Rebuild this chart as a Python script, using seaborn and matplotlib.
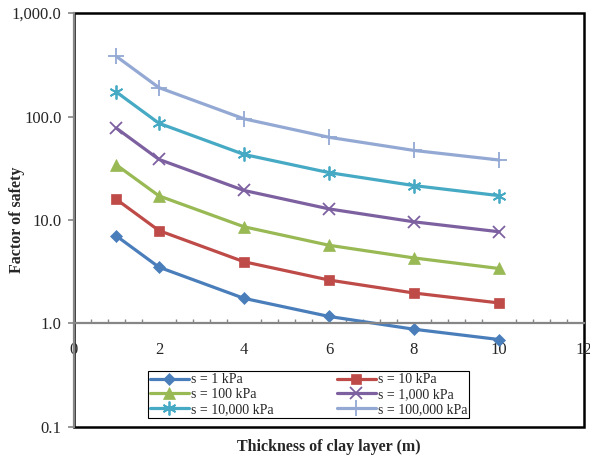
import matplotlib
matplotlib.use("Agg")
import matplotlib.pyplot as plt
import numpy as np
import pandas as pd
import seaborn as sns
from matplotlib.ticker import FuncFormatter, LogLocator, MultipleLocator, NullLocator

# values
thickness = [1, 2, 4, 6, 8, 10]
fs_1 = [7.0, 3.5, 1.75, 1.17, 0.88, 0.70]
fs_10 = [15.8, 7.9, 3.95, 2.63, 1.97, 1.58]
fs_100 = [34.0, 17.1, 8.6, 5.7, 4.3, 3.4]
fs_1000 = [77.0, 38.5, 19.3, 12.8, 9.6, 7.7]
fs_10000 = [172.0, 86.0, 43.0, 28.7, 21.5, 17.2]
fs_100000 = [380.0, 190.0, 95.0, 63.0, 47.0, 38.0]

labels = ["s = 1 kPa", "s = 10 kPa", "s = 100 kPa",
          "s = 1,000 kPa", "s = 10,000 kPa", "s = 100,000 kPa"]
series = [fs_1, fs_10, fs_100, fs_1000, fs_10000, fs_100000]
colors = ["#4A7EBB", "#BE4B48", "#98B954", "#7D60A0", "#46AAC5", "#93A9D4"]
markers = ["D", "s", "^", "x", (6, 2, 0), "+"]
msizes = [6, 7, 8, 9, 10, 11]

df = pd.DataFrame({
    "Thickness": np.tile(thickness, len(series)),
    "FS": np.concatenate(series),
    "Series": np.repeat(labels, len(thickness)),
})

sns.set_theme(style="white")
plt.rcParams["font.family"] = ["Liberation Serif", "DejaVu Serif"]

fig = plt.figure(figsize=(5.9, 4.58), dpi=100)
ax = fig.add_axes([0.1254, 0.0677, 0.8644, 0.9039])

for lab, col, mk, ms in zip(labels, colors, markers, msizes):
    sub = df[df["Series"] == lab]
    line_art = mk in ("x", "+") or isinstance(mk, tuple)
    sns.lineplot(data=sub, x="Thickness", y="FS", ax=ax, color=col, marker=mk,
                 markersize=ms, markeredgewidth=1.3 if line_art else 0.5,
                 markeredgecolor=col, linewidth=2.3, label=lab)

ax.set_yscale("log")
ax.set_xlim(0, 12)
ax.set_ylim(0.1, 1000)

ax.yaxis.set_major_locator(LogLocator(base=10))
ax.yaxis.set_minor_locator(NullLocator())
ax.yaxis.set_major_formatter(FuncFormatter(lambda v, p: f"{v:,.1f}"))
ax.xaxis.set_major_locator(MultipleLocator(2))
ax.xaxis.set_minor_locator(MultipleLocator(0.4))

# x axis crosses at FS = 1
ax.spines["bottom"].set_position(("data", 1))
ax.spines["bottom"].set_color("#868686")
ax.spines["bottom"].set_linewidth(1.6)
ax.spines["left"].set_color("#868686")
ax.spines["left"].set_linewidth(1.6)
for s in ["top", "right"]:
    ax.spines[s].set_visible(False)
ax.patch.set_edgecolor("black")
ax.patch.set_linewidth(1.8)

ax.tick_params(axis="x", which="major", direction="in", length=5, width=1.2,
               color="#868686", pad=13, labelsize=12)
ax.tick_params(axis="x", which="minor", direction="in", length=3, width=1,
               color="#868686", bottom=True)
ax.tick_params(axis="y", which="major", direction="out", length=4, width=1.2,
               color="#868686", pad=5, labelsize=12, left=True)

ax.set_xlabel("Thickness of clay layer (m)", fontsize=11.5, fontweight="bold")
ax.set_ylabel("Factor of safety", fontsize=11.5, fontweight="bold")
ax.xaxis.set_label_coords(0.5, -0.029)
ax.yaxis.set_label_coords(-0.097, 0.5)

# legend reads row by row, as in the reference
handles, hlabels = ax.get_legend_handles_labels()
order = [0, 2, 4, 1, 3, 5]
leg = ax.legend([handles[i] for i in order], [hlabels[i] for i in order],
                loc="lower left", bbox_to_anchor=(0.145, 0.022, 0.63, 0.125),
                mode="expand", ncol=2, fontsize=10, frameon=True, fancybox=False,
                edgecolor="black", framealpha=1, borderpad=0.15, labelspacing=0.12,
                handlelength=2.8, handletextpad=0.15, borderaxespad=0, columnspacing=1.0)
leg.get_frame().set_linewidth(0.8)

fig.savefig("out.png", dpi=100)
